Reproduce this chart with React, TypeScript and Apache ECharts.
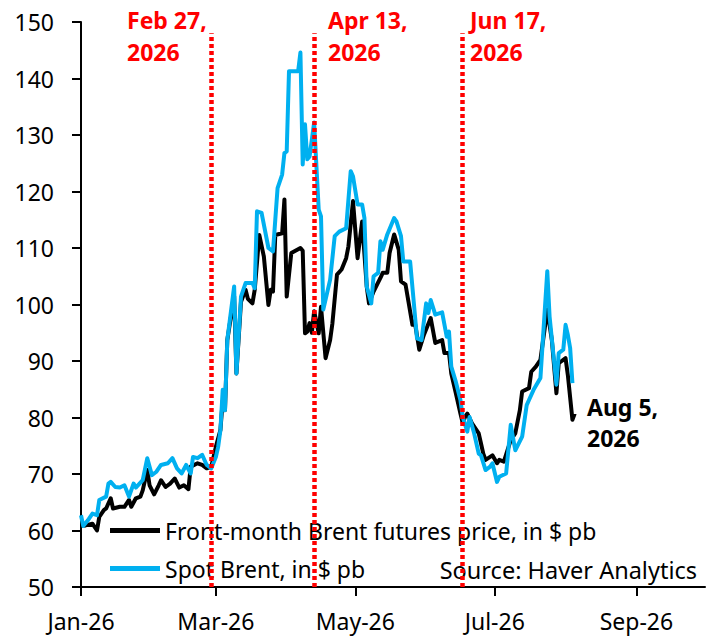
import React, { useEffect, useRef } from "react";
import * as echarts from "echarts";

const tickDates = ["2026-01-01", "2026-03-01", "2026-05-01", "2026-07-01", "2026-09-01"];
const tickLabels = ["Jan-26", "Mar-26", "May-26", "Jul-26", "Sep-26"];

const futuresName = "Front-month Brent futures price, in $ pb";
const spotName = "Spot Brent, in $ pb";

const futuresDates = [
  "01-01","01-03","01-06","01-08","01-09","01-11","01-12","01-14","01-15","01-18","01-20","01-22","01-23","01-25","01-27","01-28","01-30","01-31",
  "02-02","02-04","02-05","02-07","02-09","02-11","02-13","02-15","02-17","02-18","02-21","02-23","02-25","02-27",
  "03-01","03-03","03-04","03-05","03-06","03-09","03-10","03-12","03-14","03-15","03-17","03-18","03-20","03-22","03-24","03-25","03-26","03-27","03-30","03-31",
  "04-01","04-03","04-07","04-08","04-09","04-10","04-11","04-12","04-13","04-15","04-16","04-18","04-20","04-21","04-23","04-25","04-27","04-28","04-30",
  "05-02","05-04","05-06","05-07","05-09","05-12","05-13","05-15","05-16","05-18","05-20","05-21","05-23","05-26","05-27","05-29","05-31",
  "06-03","06-05","06-08","06-09","06-11","06-12","06-14","06-16","06-17","06-18","06-19","06-21","06-24","06-25","06-26","06-27","06-30",
  "07-02","07-03","07-05","07-08","07-10","07-12","07-13","07-16","07-17","07-19","07-21","07-24","07-26","07-28","07-29",
  "08-01","08-02","08-04","08-05",
];
const futuresValues = [
  60.8,60.9,61.2,60.0,62.4,63.6,63.9,65.7,63.9,64.2,64.2,65.4,64.2,65.7,66.0,67.1,70.7,68.0,
  66.4,68.0,68.9,67.7,68.3,69.2,67.6,68.0,67.3,71.3,71.9,71.6,71.0,71.3,
  74.8,77.8,83.0,81.3,93.7,101.5,87.8,100.5,102.6,101.0,100.2,102.6,112.3,108.5,99.9,102.6,102.3,112.3,112.6,118.6,
  101.4,109.1,110.0,109.5,94.9,95.2,96.7,95.0,98.8,94.9,99.6,90.5,93.7,96.7,105.3,106.2,108.2,110.3,118.3,
  108.2,114.7,103.2,100.2,102.3,104.7,105.6,105.6,109.1,112.4,109.7,104.1,103.5,96.4,97.0,92.0,94.6,
  97.6,93.2,93.7,91.4,91.4,87.8,84.3,80.7,79.0,80.1,80.7,79.0,77.2,75.4,73.6,72.5,73.3,
  71.9,72.5,72.2,76.0,77.2,81.3,84.6,85.2,88.1,89.0,90.2,99.1,93.7,84.3,89.6,
  90.5,87.5,79.6,80.7,
];

const spotDates = [
  "01-01","01-02","01-04","01-06","01-08","01-09","01-12","01-13","01-14","01-16","01-18","01-20","01-22","01-24","01-25","01-28","01-30",
  "02-01","02-03","02-05","02-08","02-10","02-12","02-14","02-16","02-18","02-19","02-21","02-23","02-25","02-27",
  "03-01","03-02","03-03","03-04","03-05","03-06","03-09","03-10","03-12","03-14","03-17","03-18","03-19","03-21","03-24","03-26","03-27","03-28","03-30","03-31",
  "04-01","04-02","04-06","04-07","04-08","04-09","04-10","04-11","04-13","04-15","04-16","04-17","04-20","04-22","04-24","04-27","04-29","04-30",
  "05-02","05-04","05-05","05-06","05-08","05-09","05-11","05-12","05-13","05-15","05-18","05-19","05-21","05-22","05-25","05-28","05-30",
  "06-01","06-02","06-03","06-05","06-08","06-10","06-11","06-12","06-14","06-16","06-17","06-19","06-20","06-22","06-24","06-25","06-27","06-29","06-30",
  "07-02","07-03","07-06","07-08","07-10","07-13","07-15","07-16","07-18","07-21","07-24","07-25","07-28","07-29","07-31",
  "08-01","08-02","08-03","08-04",
];
const spotValues = [
  62.7,60.8,61.8,63.0,62.7,65.4,66.0,68.3,68.6,67.7,67.6,68.0,66.0,68.3,67.6,68.9,72.8,
  69.8,70.4,71.6,71.9,72.8,71.0,70.1,71.6,70.1,73.0,72.8,73.4,71.6,71.0,
  73.0,74.8,77.8,84.9,81.3,93.7,103.2,87.8,101.4,103.8,103.8,102.9,116.5,116.2,110.0,109.4,115.0,120.6,123.0,126.8,
  127.1,141.3,141.3,144.6,124.8,131.9,125.7,126.2,132.2,116.8,115.6,99.1,104.4,112.1,112.9,113.5,123.6,122.7,
  117.7,117.7,115.3,103.2,100.2,105.0,105.6,111.2,109.7,112.4,115.3,114.7,112.1,107.6,107.6,94.0,93.7,
  100.2,98.5,100.8,98.2,98.6,94.3,95.2,89.0,86.3,83.1,80.1,77.5,80.1,77.2,73.6,73.3,70.7,71.3,71.9,
  68.6,69.5,70.1,78.7,74.2,76.6,82.2,83.1,84.9,87.0,105.9,97.9,85.8,91.4,92.0,
  96.4,94.6,92.3,86.1,
];

const eventDates = ["2026-02-27", "2026-04-13", "2026-06-17"];
const eventTop = 148;
const yMin = 50;
const yMax = 150;
const yStep = 10;

const ts = (s: string) => {
  const [y, m, d] = s.split("-").map(Number);
  return new Date(y, m - 1, d).getTime();
};

const FONT = '"Noto Sans", "DejaVu Sans", sans-serif';

export default function App() {
  const ref = useRef<HTMLDivElement>(null);
  useEffect(() => {
    if (!ref.current) return;
    const chart = echarts.init(ref.current, null, { renderer: "svg" });
    const tickTs = tickDates.map(ts);
    const futures = futuresDates.map((d, i) => [ts("2026-" + d), futuresValues[i]]);
    const spot = spotDates.map((d, i) => [ts("2026-" + d), spotValues[i]]);
    const boldText = (text: string, x: number, y: number, fill: string) => ({
      type: "text",
      x,
      y,
      style: { text, fill, font: `bold 23px ${FONT}`, align: "left", verticalAlign: "middle" },
    });
    chart.setOption({
      animation: false,
      grid: { left: 81, right: 7, top: 22, bottom: 50, containLabel: false },
      xAxis: {
        type: "value",
        min: ts("2026-01-01"),
        max: ts("2026-10-01"),
        axisLine: { show: true, lineStyle: { color: "#000", width: 2 } },
        axisTick: { show: true, length: 9, lineStyle: { color: "#000", width: 2 }, customValues: tickTs },
        axisLabel: {
          customValues: tickTs,
          color: "#000",
          fontSize: 23,
          fontFamily: FONT,
          margin: 22,
          formatter: (v: number) => {
            const i = tickTs.indexOf(v);
            return i >= 0 ? tickLabels[i] : "";
          },
        },
        splitLine: { show: false },
      },
      yAxis: {
        type: "value",
        min: yMin,
        max: yMax,
        interval: yStep,
        axisLine: { show: true, lineStyle: { color: "#000", width: 2 } },
        axisTick: { show: true, length: 9, lineStyle: { color: "#000", width: 2 } },
        axisLabel: { color: "#000", fontSize: 23, fontFamily: FONT, margin: 27 },
        splitLine: { show: false },
      },
      legend: {
        data: [futuresName, spotName],
        orient: "vertical",
        left: 105,
        top: 514,
        itemGap: 15,
        itemWidth: 50,
        itemHeight: 5,
        icon: "rect",
        textStyle: { color: "#000", fontSize: 23, fontFamily: FONT },
      },
      series: [
        {
          name: futuresName,
          type: "line",
          data: futures,
          showSymbol: false,
          symbol: "none",
          itemStyle: { color: "#000000" },
          lineStyle: { color: "#000000", width: 4, join: "round" },
        },
        {
          name: spotName,
          type: "line",
          data: spot,
          showSymbol: false,
          symbol: "none",
          itemStyle: { color: "#00B0F0" },
          lineStyle: { color: "#00B0F0", width: 4, join: "round" },
        },
        {
          name: "events",
          type: "line",
          data: [],
          z: 10,
          markLine: {
            silent: true,
            symbol: "none",
            label: { show: false },
            lineStyle: { color: "#FF0000", width: 4.5, type: [4, 3] },
            data: eventDates.map((d) => [
              { coord: [ts(d), yMin] },
              { coord: [ts(d), eventTop] },
            ]),
          },
        },
      ],
      graphic: [
        boldText("Feb 27,", 127, 20, "#FF0000"),
        boldText("2026", 127, 52, "#FF0000"),
        boldText("Apr 13,", 328, 20, "#FF0000"),
        boldText("2026", 328, 52, "#FF0000"),
        boldText("Jun 17,", 470, 20, "#FF0000"),
        boldText("2026", 470, 52, "#FF0000"),
        boldText("Aug 5,", 587, 407, "#000000"),
        boldText("2026", 587, 438, "#000000"),
        {
          type: "text",
          x: 697,
          y: 570,
          z: 5,
          style: { text: "Source: Haver Analytics", fill: "#000", font: `23.5px ${FONT}`, align: "right", verticalAlign: "middle" },
        },
      ],
    });
    return () => chart.dispose();
  }, []);
  return (
    <div
      ref={ref}
      style={{ position: "fixed", left: 0, top: 0, width: 712, height: 637, background: "#fff" }}
    />
  );
}
